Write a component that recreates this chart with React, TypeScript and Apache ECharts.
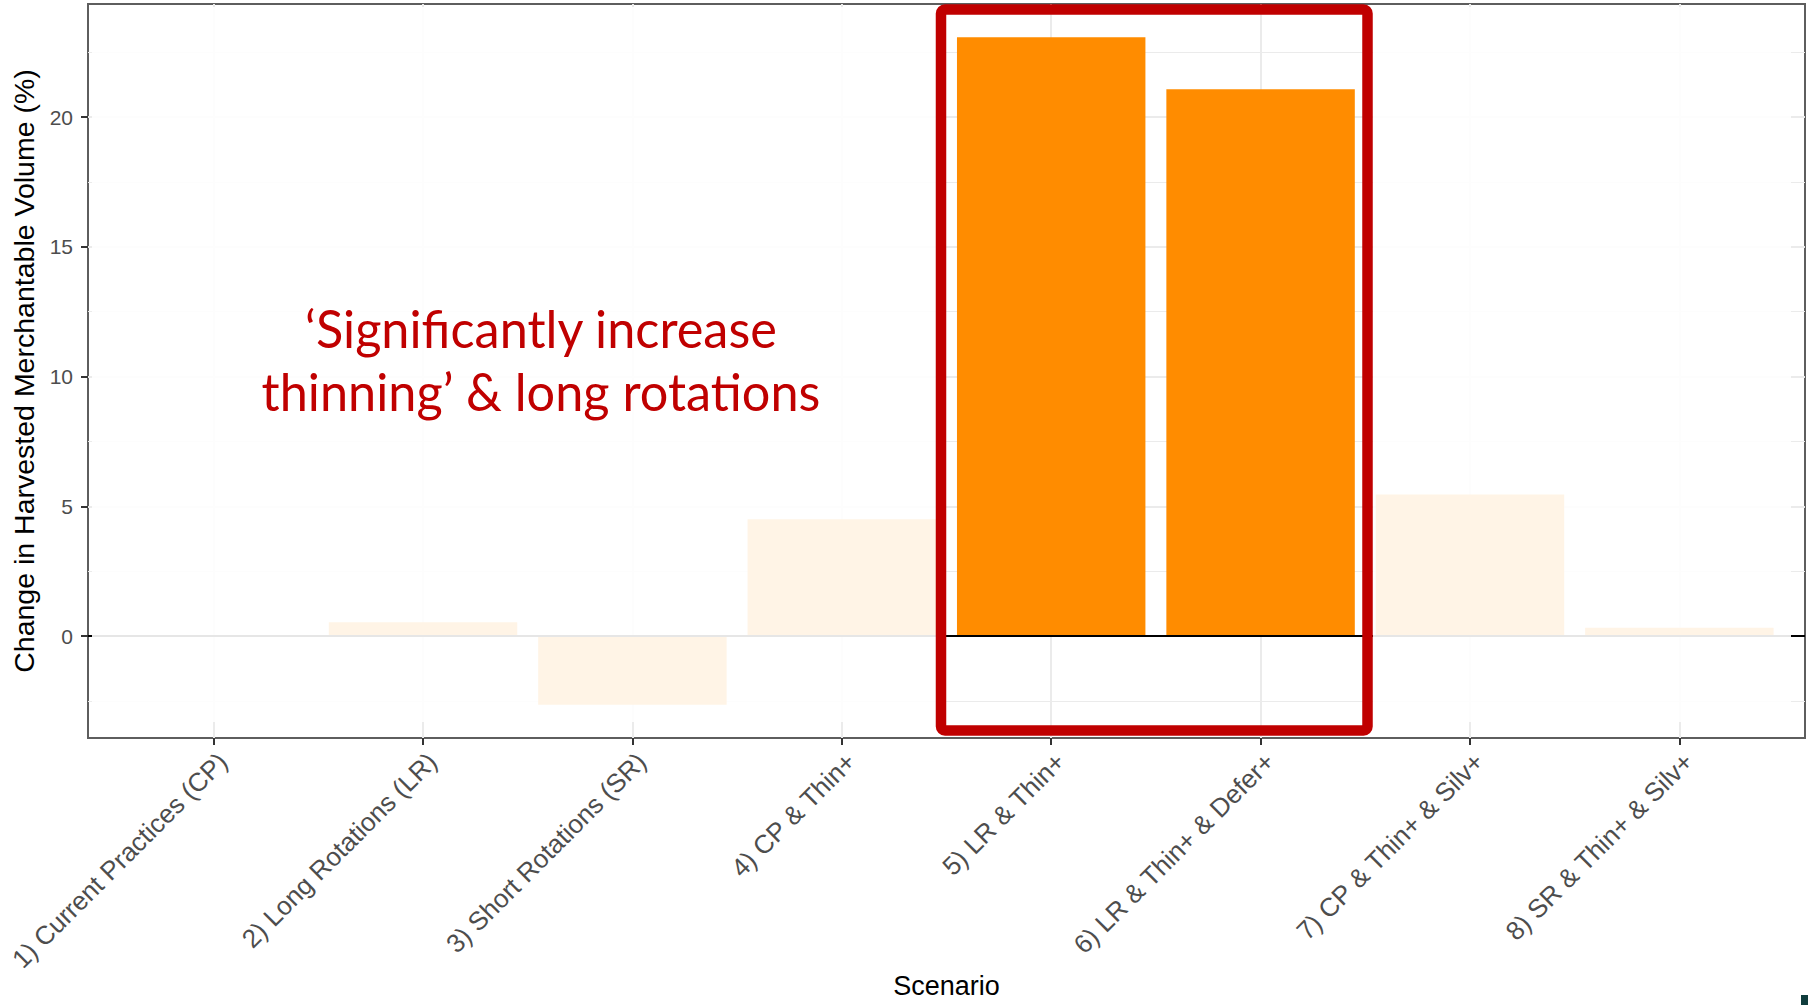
import React, { useEffect, useRef } from "react";
import * as echarts from "echarts";

// Scenario labels and change in harvested merchantable volume (%)
const scenarios = [
  "1) Current Practices (CP)",
  "2) Long Rotations (LR)",
  "3) Short Rotations (SR)",
  "4) CP & Thin+",
  "5) LR & Thin+",
  "6) LR & Thin+ & Defer+",
  "7) CP & Thin+ & Silv+",
  "8) SR & Thin+ & Silv+",
];
const volumeChange = [0, 0.53, -2.64, 4.5, 23.07, 21.07, 5.46, 0.32];

// y breaks (major labelled, minor unlabelled)
const majorBreaks = [0, 5, 10, 15, 20];
const minorBreaks = [-2.5, 2.5, 7.5, 12.5, 17.5, 22.5];

const yTitle = "Change in Harvested Merchantable Volume (%)";
const xTitle = "Scenario";
const callout = ["\u2018Significantly increase", "thinning\u2019 & long rotations"];

const W = 1808;
const H = 1005;

export default function App() {
  const ref = useRef<HTMLDivElement>(null);

  useEffect(() => {
    if (!ref.current) return;
    const chart = echarts.init(ref.current, undefined, { renderer: "svg" });

    // panel box
    const pL = 88, pR = 1805, pT = 4, pB = 738;
    // discrete scale expanded by 0.6 of a category on either side
    const unit = (pR - pL) / (scenarios.length - 1 + 1.2);
    const firstX = pL + 0.6 * unit;
    const lastX = pR - 0.6 * unit;

    // continuous scale expanded by 5% of the data range
    const lo = Math.min(0, ...volumeChange);
    const hi = Math.max(0, ...volumeChange);
    const pad = 0.05 * (hi - lo);
    const yMin = lo - pad;
    const yMax = hi + pad;

    const font = "'Liberation Sans', Arial, Helvetica, sans-serif";
    const gridColor = "#ebebeb";

    const gridLines = [
      ...minorBreaks.map((v) => ({ yAxis: v, lineStyle: { color: gridColor, width: 1.2, type: "solid" } })),
      ...majorBreaks.map((v) => ({ yAxis: v, lineStyle: { color: gridColor, width: 2, type: "solid" } })),
    ];

    chart.setOption({
      animation: false,
      backgroundColor: "#ffffff",
      textStyle: { fontFamily: font },
      grid: [
        {
          left: pL,
          right: W - pR,
          top: pT,
          bottom: H - pB,
          outerBoundsMode: "none",
          containLabel: false,
          show: true,
          borderColor: "#5e5e5e",
          borderWidth: 2,
          backgroundColor: "transparent",
        },
        {
          left: firstX,
          right: W - lastX,
          top: pT,
          bottom: H - pB,
          outerBoundsMode: "none",
          containLabel: false,
        },
      ],
      xAxis: [
        { gridIndex: 0, type: "value", min: 0, max: 1, show: false },
        {
          gridIndex: 1,
          type: "category",
          data: scenarios,
          boundaryGap: false,
          position: "bottom",
          axisLine: { show: false, onZero: false },
          axisTick: { show: true, length: 7, lineStyle: { color: "#333333", width: 2 } },
          axisLabel: {
            interval: 0,
            rotate: 45,
            fontSize: 26,
            color: "#4d4d4d",
            margin: 10,
            verticalAlign: "top",
            fontFamily: font,
          },
          splitLine: { show: true, lineStyle: { color: gridColor, width: 2 } },
          name: xTitle,
          nameLocation: "middle",
          nameGap: 237,
          nameMoveOverlap: false,
          nameTextStyle: { fontSize: 27, lineHeight: 22, color: "#000000", fontFamily: font },
        },
      ],
      yAxis: [
        {
          gridIndex: 0,
          type: "value",
          min: yMin,
          max: yMax,
          axisLine: { show: false, onZero: false },
          axisTick: {
            show: true,
            length: 7,
            lineStyle: { color: "#333333", width: 2 },
            customValues: majorBreaks,
          },
          axisLabel: {
            customValues: majorBreaks,
            fontSize: 21,
            color: "#4d4d4d",
            margin: 15,
            fontFamily: font,
          },
          splitLine: { show: false },
          name: yTitle,
          nameLocation: "middle",
          nameGap: 41,
          nameTextStyle: { fontSize: 28.5, color: "#000000", fontFamily: font },
        },
        { gridIndex: 1, type: "value", min: yMin, max: yMax, show: false },
      ],
      series: [
        {
          // horizontal panel grid lines
          type: "line",
          xAxisIndex: 0,
          yAxisIndex: 0,
          data: [[0, 0]],
          symbol: "none",
          silent: true,
          z: 1,
          markLine: {
            z: 1,
            silent: true,
            symbol: ["none", "none"],
            label: { show: false },
            data: gridLines,
          },
        },
        {
          type: "bar",
          xAxisIndex: 1,
          yAxisIndex: 1,
          data: volumeChange,
          barWidth: "90%",
          clip: false,
          itemStyle: { color: "#ff8c00" },
          z: 2,
        },
        {
          // reference line at zero change
          type: "line",
          xAxisIndex: 0,
          yAxisIndex: 0,
          data: [
            [0, 0],
            [1, 0],
          ],
          symbol: "none",
          silent: true,
          lineStyle: { color: "#000000", width: 2 },
          z: 3,
        },
      ],
      graphic: [
        // fade everything outside the highlighted scenarios
        {
          type: "rect",
          z: 50,
          silent: true,
          shape: { x: 92, y: 7, width: 844, height: 715 },
          style: { fill: "rgba(255,255,255,0.9)" },
        },
        {
          type: "rect",
          z: 50,
          silent: true,
          shape: { x: 1373, y: 7, width: 418, height: 715 },
          style: { fill: "rgba(255,255,255,0.9)" },
        },
        {
          type: "rect",
          z: 60,
          silent: true,
          shape: { x: 941, y: 9.5, width: 426.5, height: 721, r: 4 },
          style: { fill: "none", stroke: "#c00000", lineWidth: 10.5 },
        },
        {
          type: "text",
          z: 60,
          silent: true,
          x: 541,
          y: 359,
          scaleX: 0.97,
          style: {
            text: callout.join("\n"),
            fontFamily: "Lato, 'Open Sans', sans-serif",
            fontSize: 52,
            lineHeight: 63,
            fill: "#c00000",
            align: "center",
            verticalAlign: "middle",
          },
        },
        {
          type: "rect",
          z: 60,
          silent: true,
          shape: { x: 1801, y: 995, width: 7, height: 10 },
          style: { fill: "#0f3d3d" },
        },
      ],
    });

    return () => chart.dispose();
  }, []);

  return (
    <div
      ref={ref}
      style={{ position: "fixed", left: 0, top: 0, width: W, height: H, background: "#fff" }}
    />
  );
}
